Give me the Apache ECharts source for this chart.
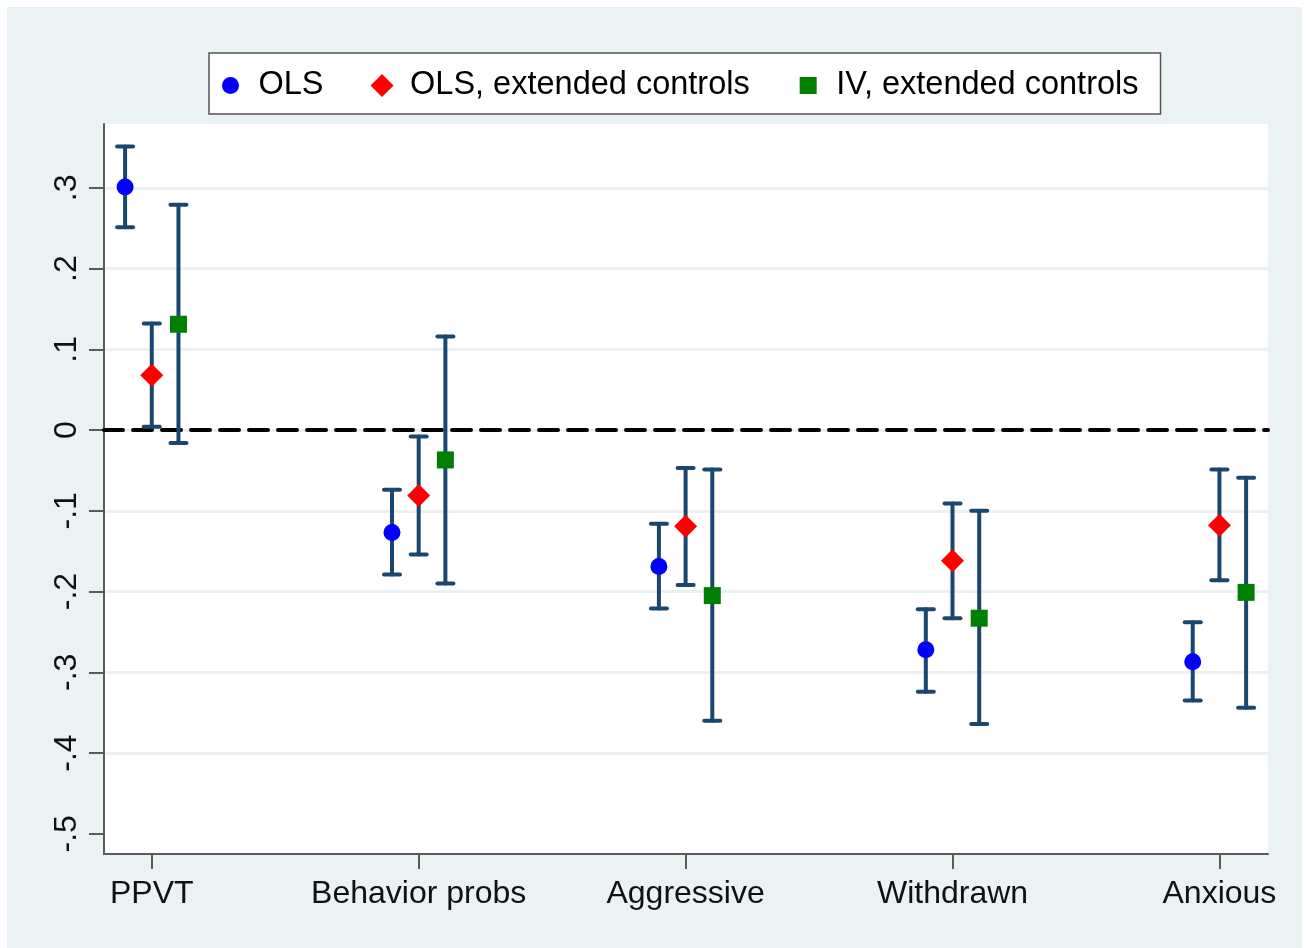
<!DOCTYPE html>
<html>
<head>
<meta charset="utf-8">
<script src="https://cdn.jsdelivr.net/npm/echarts@6/dist/echarts.min.js"></script>
<style>
  html, body { margin: 0; padding: 0; background: #ffffff; }
  #panel { position: absolute; left: 7px; top: 7px; width: 1295px; height: 941px; background: #EAF2F3; }
  #main { position: absolute; left: 0; top: 0; width: 1310px; height: 948px; }
</style>
</head>
<body>
<div id="panel"></div>
<div id="main"></div>
<script>
// ---- data ----
const categories = ['PPVT', 'Behavior probs', 'Aggressive', 'Withdrawn', 'Anxious'];
const seriesNames = ['OLS', 'OLS, extended controls', 'IV, extended controls'];

const olsEst = [0.301, -0.127, -0.169, -0.272, -0.287];
const olsLo  = [0.251, -0.179, -0.221, -0.324, -0.335];
const olsHi  = [0.351, -0.074, -0.116, -0.222, -0.238];

const extEst = [0.068, -0.081, -0.119, -0.162, -0.118];
const extLo  = [0.004, -0.154, -0.192, -0.233, -0.186];
const extHi  = [0.132, -0.008, -0.047, -0.091, -0.049];

const ivEst = [0.131, -0.037, -0.205, -0.233, -0.201];
const ivLo  = [-0.016, -0.190, -0.360, -0.364, -0.344];
const ivHi  = [0.279, 0.116, -0.049, -0.100, -0.059];

const yTickValues = [-0.5, -0.4, -0.3, -0.2, -0.1, 0, 0.1, 0.2, 0.3];
const yTickLabels = ['-.5', '-.4', '-.3', '-.2', '-.1', '0', '.1', '.2', '.3'];
const gridValues = [-0.4, -0.3, -0.2, -0.1, 0, 0.1, 0.2, 0.3];

// ---- styling / build ----
const FONT = '"Liberation Sans", Arial, sans-serif';
const NAVY = '#1A476F';
const GRIDC = '#EAF2F3';
const AXISC = '#5a5a5a';
const offsets = [-0.1, 0, 0.1];
const colors = ['#0000FF', '#FF0000', '#008000'];
const symbols = ['circle', 'diamond', 'rect'];
const symbolSizes = [17, 23, 17];
// legend icons: padded paths so that the three icons keep their relative sizes
const legendIcons = [
  'path://M-1,-1M1,1M0.74,0A0.74,0.74,0,1,1,-0.74,0A0.74,0.74,0,1,1,0.74,0Z',
  'path://M0,-1L1,0L0,1L-1,0Z',
  'path://M-1,-1M1,1M-0.74,-0.74L0.74,-0.74L0.74,0.74L-0.74,0.74Z'
];
const ests = [olsEst, extEst, ivEst];
const los = [olsLo, extLo, ivLo];
const his = [olsHi, extHi, ivHi];
const catPos = categories.map((c, i) => i + 1);

function errData(k) {
  return categories.map((c, i) => [catPos[i] + offsets[k], los[k][i], his[k][i]]);
}
function ptData(k) {
  return categories.map((c, i) => [catPos[i] + offsets[k], ests[k][i]]);
}

function renderErr(params, api) {
  const x = api.value(0);
  const pLo = api.coord([x, api.value(1)]);
  const pHi = api.coord([x, api.value(2)]);
  const cap = 8;
  const st = { stroke: NAVY, lineWidth: 4, lineCap: 'round' };
  return {
    type: 'group',
    children: [
      { type: 'line', shape: { x1: pHi[0], y1: pHi[1], x2: pLo[0], y2: pLo[1] }, style: st },
      { type: 'line', shape: { x1: pHi[0] - cap, y1: pHi[1], x2: pHi[0] + cap, y2: pHi[1] }, style: st },
      { type: 'line', shape: { x1: pLo[0] - cap, y1: pLo[1], x2: pLo[0] + cap, y2: pLo[1] }, style: st }
    ]
  };
}

const series = [];
// helper series for grid lines and zero reference line
series.push({
  type: 'line',
  data: [],
  silent: true,
  markLine: {
    silent: true,
    symbol: 'none',
    z: 0,
    label: { show: false },
    lineStyle: { color: GRIDC, width: 3, type: 'solid' },
    data: gridValues.map(v => ({ yAxis: v }))
  }
});
series.push({
  type: 'line',
  data: [],
  silent: true,
  markLine: {
    silent: true,
    symbol: 'none',
    z: 1,
    label: { show: false },
    lineStyle: { color: '#000000', width: 4, type: [19, 10], cap: 'round' },
    data: [{ yAxis: 0 }]
  }
});
for (let k = 0; k < 3; k++) {
  series.push({
    type: 'custom',
    z: 2,
    silent: true,
    renderItem: renderErr,
    encode: { x: 0, y: [1, 2] },
    data: errData(k)
  });
}
for (let k = 0; k < 3; k++) {
  series.push({
    name: seriesNames[k],
    type: 'scatter',
    z: 3,
    symbol: symbols[k],
    symbolSize: symbolSizes[k],
    itemStyle: { color: colors[k], opacity: 1 },
    data: ptData(k)
  });
}

const chart = echarts.init(document.getElementById('main'), null, { renderer: 'canvas' });
chart.setOption({
  backgroundColor: 'transparent',
  animation: false,
  textStyle: { fontFamily: FONT },
  legend: {
    data: seriesNames.map((n, k) => ({ name: n, icon: legendIcons[k] })),
    left: 209,
    top: 53,
    orient: 'horizontal',
    itemWidth: 46,
    itemHeight: 23,
    itemGap: 47,
    symbolKeepAspect: true,
    padding: [16, 22, 12, 10],
    backgroundColor: '#ffffff',
    borderColor: '#555555',
    borderWidth: 1.5,
    borderRadius: 0,
    textStyle: { fontSize: 32.5, color: '#000000', fontFamily: FONT },
    selectedMode: false
  },
  grid: {
    left: 104, right: 42, top: 124, bottom: 94,
    show: true, backgroundColor: '#ffffff', borderWidth: 0,
    containLabel: false
  },
  xAxis: {
    type: 'value',
    min: 0.821, max: 5.182,
    axisLine: { show: true, onZero: false, lineStyle: { color: AXISC, width: 2 } },
    axisTick: { show: true, length: 15, lineStyle: { color: AXISC, width: 2 }, customValues: catPos },
    axisLabel: {
      customValues: catPos,
      margin: 24,
      fontSize: 32, color: '#111111', fontFamily: FONT,
      formatter: v => categories[Math.round(v) - 1] || ''
    },
    splitLine: { show: false }
  },
  yAxis: {
    type: 'value',
    min: -0.525, max: 0.379,
    axisLine: { show: true, onZero: false, lineStyle: { color: AXISC, width: 2 } },
    axisTick: { show: true, length: 15, lineStyle: { color: AXISC, width: 2 }, customValues: yTickValues },
    axisLabel: {
      customValues: yTickValues,
      rotate: 90,
      margin: 21,
      fontSize: 32, color: '#111111', fontFamily: FONT,
      formatter: v => {
        const i = yTickValues.findIndex(t => Math.abs(t - v) < 1e-6);
        return i >= 0 ? yTickLabels[i] : '';
      }
    },
    splitLine: { show: false }
  },
  series: series
});
</script>
</body>
</html>
